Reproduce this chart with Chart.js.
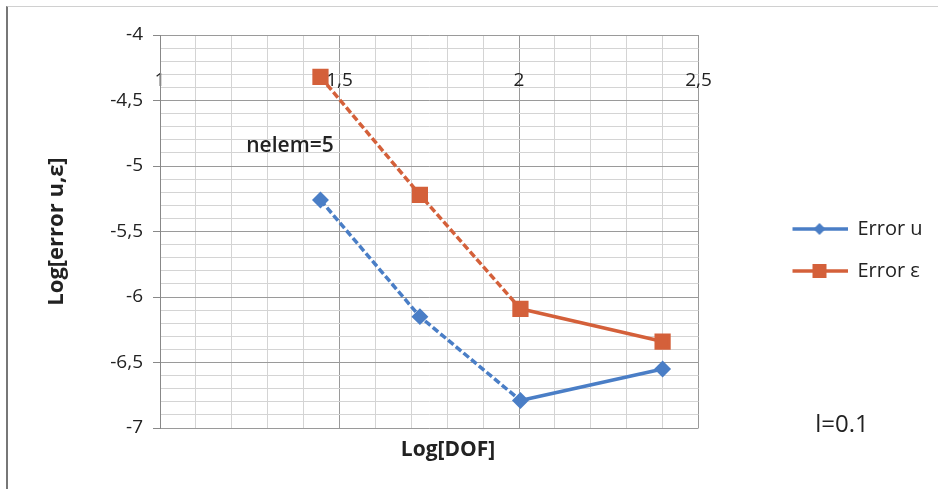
<!DOCTYPE html>
<html>
<head>
<meta charset="utf-8">
<script src="https://cdn.jsdelivr.net/npm/chart.js@4.4.0/dist/chart.umd.min.js"></script>
<style>
  body { margin: 0; background: #fff; }
  #wrap { position: relative; width: 944px; height: 495px; }
  #frame { position: absolute; left: 6px; top: 6px; right: 6px; bottom: 6px;
           border-left: 2px solid #777; border-top: 1px solid #d0d0d0; pointer-events: none; }
</style>
</head>
<body>
<div id="wrap">
  <canvas id="myChart" width="944" height="495"></canvas>
  <div id="frame"></div>
</div>
<script>
// values
const logDof = [1.447, 1.724, 2.004, 2.4];
const errorU = [-5.26, -6.15, -6.79, -6.55];
const errorEps = [-4.32, -5.22, -6.09, -6.34];
const xTickLabels = ["1", "1,5", "2", "2,5"];
const yTickLabels = ["-7", "-6,5", "-6", "-5,5", "-5", "-4,5", "-4"];

const blue = "#4a7ec6";
const orange = "#d4603a";
const font = "'Open Sans', 'DejaVu Sans', sans-serif";

// is the value on a 0.5 step?
const isMajor = (v) => Math.abs(v * 2 - Math.round(v * 2)) < 1e-6;

// little line + marker pictures for the legend (left part kept empty as a gap)
function legendImage(color, marker) {
  const c = document.createElement("canvas");
  c.width = 127;
  c.height = 16;
  const g = c.getContext("2d");
  g.strokeStyle = color;
  g.lineWidth = 3.5;
  g.beginPath();
  g.moveTo(72, 8);
  g.lineTo(127, 8);
  g.stroke();
  g.fillStyle = color;
  if (marker === "diamond") {
    g.beginPath();
    g.moveTo(99, 2);
    g.lineTo(93, 8);
    g.lineTo(99, 14);
    g.lineTo(105, 8);
    g.closePath();
    g.fill();
  } else {
    g.fillRect(92, 1, 14, 14);
  }
  return c;
}
const legendImages = [legendImage(blue, "diamond"), legendImage(orange, "square")];

// the free text boxes of the picture
const notes = {
  id: "notes",
  afterDraw(chart) {
    const ctx = chart.ctx;
    ctx.save();
    ctx.fillStyle = "#222";
    ctx.textAlign = "center";
    ctx.textBaseline = "middle";
    ctx.font = "600 21px " + font;
    ctx.fillText("nelem=5", 290, 146);
    ctx.font = "24px " + font;
    ctx.fillText("l=0.1", 842, 425);
    ctx.font = "bold 21px " + font;
    ctx.fillText("Log[DOF]", 448, 450);
    ctx.restore();
  },
};

const ctx = document.getElementById("myChart");

new Chart(ctx, {
  type: "line",
  data: {
    datasets: [
      {
        label: "Error u",
        data: logDof.map((x, i) => ({ x: x, y: errorU[i] })),
        borderColor: blue,
        backgroundColor: blue,
        borderWidth: 3.5,
        pointStyle: "rectRot",
        pointRadius: 6,
        segment: {
          borderDash: (c) => (c.p0DataIndex < 2 ? [7, 3] : undefined),
        },
      },
      {
        label: "Error \u03b5",
        data: logDof.map((x, i) => ({ x: x, y: errorEps[i] })),
        borderColor: orange,
        backgroundColor: orange,
        borderWidth: 3.5,
        pointStyle: "rect",
        pointRadius: 9,
        segment: {
          borderDash: (c) => (c.p0DataIndex < 2 ? [7, 3] : undefined),
        },
      },
    ],
  },
  options: {
    responsive: false,
    animation: false,
    devicePixelRatio: 1,
    layout: { padding: { top: 35, left: 10, right: 16, bottom: 30 } },
    plugins: {
      tooltip: { enabled: false },
      legend: {
        position: "right",
        labels: {
          usePointStyle: true,
          pointStyleWidth: 127,
          padding: 22,
          color: "#222",
          font: { family: font, size: 20 },
          generateLabels: (chart) =>
            Chart.defaults.plugins.legend.labels.generateLabels(chart).map((item, i) => {
              item.pointStyle = legendImages[i];
              return item;
            }),
        },
      },
    },
    scales: {
      x: {
        type: "linear",
        min: 1,
        max: 2.5,
        position: { y: -4.25 },
        border: { display: false },
        grid: {
          drawTicks: false,
          color: (c) => (isMajor(c.tick.value) ? "#9a9a9a" : "#d4d4d4"),
        },
        ticks: {
          stepSize: 0.1,
          autoSkip: false,
          maxRotation: 0,
          padding: 1,
          color: "#222",
          font: { family: font, size: 19 },
          callback: (v) => (isMajor(v) ? xTickLabels[Math.round((v - 1) * 2)] : ""),
        },
      },
      xb: {
        type: "linear",
        position: "bottom",
        border: { display: false },
        grid: { display: false },
        ticks: { display: false },
        afterFit: (s) => {
          s.height = 37;
        },
      },
      y: {
        min: -7,
        max: -4,
        border: { color: "#888" },
        grid: {
          tickLength: 7,
          color: (c) => (isMajor(c.tick.value) ? "#9a9a9a" : "#d4d4d4"),
          tickColor: (c) => (isMajor(c.tick.value) ? "#888" : "rgba(0,0,0,0)"),
        },
        ticks: {
          stepSize: 0.1,
          autoSkip: false,
          padding: 10,
          color: "#222",
          font: { family: font, size: 19 },
          callback: (v) => (isMajor(v) ? yTickLabels[Math.round((v + 7) * 2)] : ""),
        },
        title: {
          display: true,
          text: "Log[error u,\u03b5]",
          color: "#222",
          font: { family: font, size: 22, weight: "bold" },
          padding: { top: 34, bottom: 0 },
        },
        afterFit: (s) => {
          s.width = 150;
        },
      },
    },
  },
  plugins: [notes],
});
</script>
</body>
</html>
